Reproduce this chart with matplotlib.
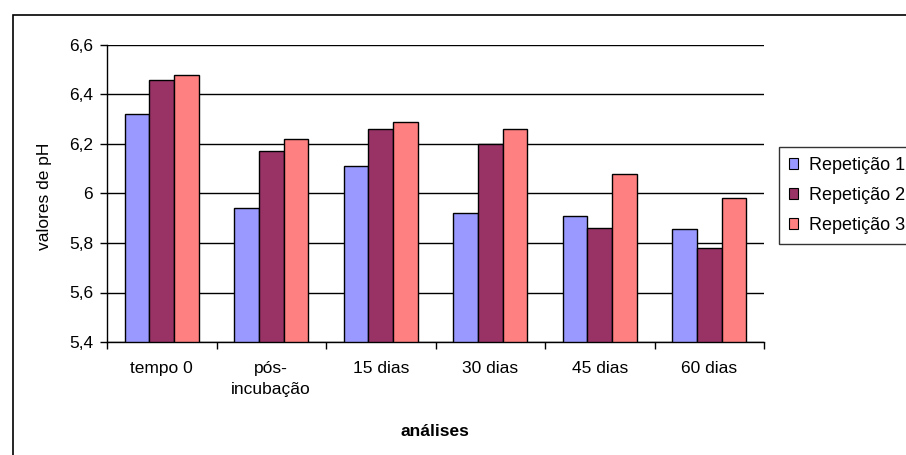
import matplotlib
matplotlib.use("Agg")
import matplotlib.pyplot as plt
from matplotlib.patches import Rectangle
import numpy as np

plt.rcParams['font.family'] = ['Liberation Sans', 'DejaVu Sans']

categories = ["tempo 0", "pós-\nincubação", "15 dias", "30 dias", "45 dias", "60 dias"]
series_names = ["Repetição 1", "Repetição 2", "Repetição 3"]
rep1 = [6.32, 5.94, 6.11, 5.92, 5.91, 5.855]
rep2 = [6.46, 6.17, 6.26, 6.20, 5.86, 5.78]
rep3 = [6.48, 6.22, 6.29, 6.26, 6.08, 5.98]
colors = ["#9999FF", "#993366", "#FF8080"]
y_ticks = [5.4, 5.6, 5.8, 6.0, 6.2, 6.4, 6.6]
y_tick_labels = ["5,4", "5,6", "5,8", "6", "6,2", "6,4", "6,6"]

W, H = 906, 455
fig = plt.figure(figsize=(W / 100, H / 100), dpi=100)
ax = fig.add_axes([107 / W, 1 - 342 / H, (764 - 107) / W, (342 - 45) / H])

fs = 12.5
x = np.arange(len(categories))
bw = 0.224
for i, (vals, c, name) in enumerate(zip([rep1, rep2, rep3], colors, series_names)):
    ax.bar(x + (i - 1) * bw, np.array(vals) - 5.4, bottom=5.4, width=bw,
           color=c, edgecolor="black", linewidth=1.0, label=name, zorder=3)

ax.set_xlim(-0.5, len(categories) - 0.5)
ax.set_ylim(5.4, 6.6)
ax.set_yticks(y_ticks)
ax.set_yticklabels(y_tick_labels, fontsize=fs)
ax.yaxis.grid(True, color="black", linewidth=1.0, zorder=0)
ax.set_axisbelow(True)

# group separators as major ticks, category names on minor ticks
ax.set_xticks(np.arange(len(categories) + 1) - 0.5)
ax.set_xticklabels([])
ax.set_xticks(x, minor=True)
ax.set_xticklabels(categories, minor=True, fontsize=fs, linespacing=1.5)
ax.tick_params(axis="x", which="major", length=5, width=1.0, direction="out", color="black")
ax.tick_params(axis="x", which="minor", length=0, pad=14)
ax.tick_params(axis="y", length=5, width=1.0, direction="out", pad=5, color="black")

for s in ["top", "right"]:
    ax.spines[s].set_visible(False)
for s in ["left", "bottom"]:
    ax.spines[s].set_color("black")
    ax.spines[s].set_linewidth(1.0)

fig.text(435 / W, 1 - 432 / H, "análises", ha="center", va="center",
         fontsize=fs, fontweight="bold")
fig.text(45 / W, 1 - 196 / H, "valores de pH", ha="center", va="center",
         rotation=90, fontsize=fs)

leg = fig.legend(loc="upper left", bbox_to_anchor=(779 / W, 1 - 147 / H),
                 fontsize=fs + 0.5, frameon=True, fancybox=False, handlelength=0.5,
                 handleheight=0.5, handletextpad=0.6, labelspacing=0.72,
                 borderpad=0.55, borderaxespad=0)
leg.get_frame().set_edgecolor("black")
leg.get_frame().set_linewidth(1.0)
for p in leg.get_patches():
    p.set_linewidth(0.8)

# chart area border
fig.patches.append(Rectangle((13 / W, -0.2), 1.0, 1 - 15 / H + 0.2,
                             transform=fig.transFigure, fill=False,
                             edgecolor="black", linewidth=1.2))

fig.savefig("out.png", dpi=100)
